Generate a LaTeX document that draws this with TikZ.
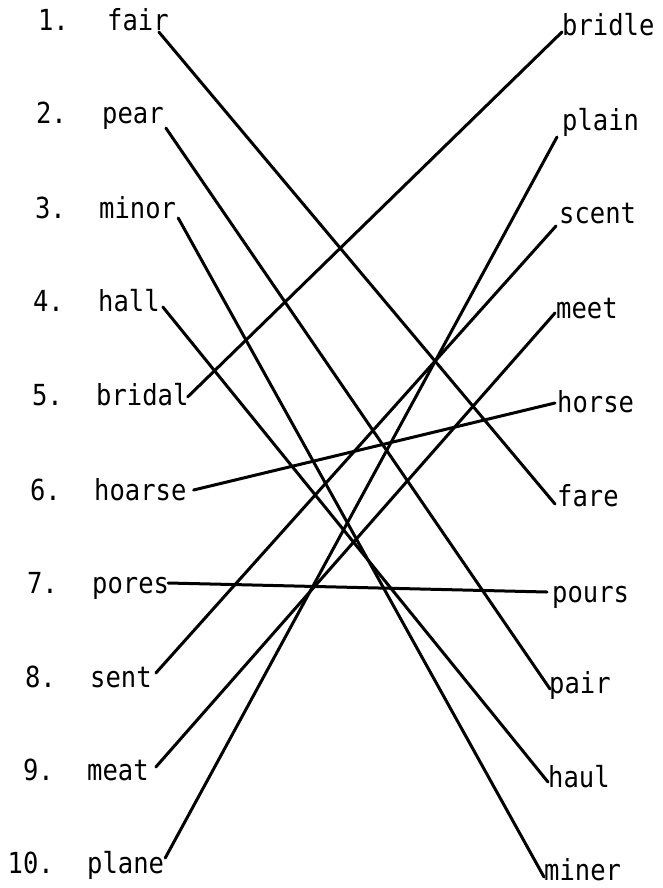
\documentclass[tikz,border=0pt]{standalone}
\usepackage{fontspec}
\setmainfont{DejaVu Sans Mono}[FakeStretch=0.88]
\usetikzlibrary{calc}
\tikzset{
  numtext/.style={anchor=base east, inner sep=0pt, font=\fontsize{29}{32}\selectfont},
  lefttext/.style={anchor=base west, inner sep=0pt, font=\fontsize{29}{32}\selectfont},
  righttext/.style={anchor=base west, inner sep=0pt, font=\fontsize{29}{32}\selectfont},
  link/.style={line width=3pt, draw=black, line cap=round}
}
\begin{document}
\begin{tikzpicture}[x=1pt, y=-1pt]
  \useasboundingbox (0,0) rectangle (662,888);

  % left column
  \node[numtext] (n1) at (69,31) {1.};
  \node[lefttext] (fair) at (107,31) {fair};
  \node[numtext] (n2) at (67,124) {2.};
  \node[lefttext] (pear) at (102,124) {pear};
  \node[numtext] (n3) at (66,218) {3.};
  \node[lefttext] (minor) at (99,218) {minor};
  \node[numtext] (n4) at (64,311) {4.};
  \node[lefttext] (hall) at (98,311) {hall};
  \node[numtext] (n5) at (63,405) {5.};
  \node[lefttext] (bridal) at (96,405) {bridal};
  \node[numtext] (n6) at (61,500) {6.};
  \node[lefttext] (hoarse) at (94,500) {hoarse};
  \node[numtext] (n7) at (58,593) {7.};
  \node[lefttext] (pores) at (92,593) {pores};
  \node[numtext] (n8) at (56,687) {8.};
  \node[lefttext] (sent) at (90,687) {sent};
  \node[numtext] (n9) at (54,780) {9.};
  \node[lefttext] (meat) at (87,780) {meat};
  \node[numtext] (n10) at (54,873) {10.};
  \node[lefttext] (plane) at (87,873) {plane};

  % right column
  \node[righttext] (bridle) at (562,36) {bridle};
  \node[righttext] (plain) at (562,130) {plain};
  \node[righttext] (scent) at (559,223) {scent};
  \node[righttext] (meet) at (556,318) {meet};
  \node[righttext] (horse) at (557,412) {horse};
  \node[righttext] (fare) at (557,506) {fare};
  \node[righttext] (pours) at (552,602) {pours};
  \node[righttext] (pair) at (549,693) {pair};
  \node[righttext] (haul) at (548,787) {haul};
  \node[righttext] (miner) at (544,880) {miner};

  % matching lines
  \draw[link] ($(fair.base east)+(-10,1)$) -- ($(fare.base west)+(-2,-2)$);
  \draw[link] ($(pear.base east)+(2,4)$) -- ($(pair.base west)+(1,-4)$);
  \draw[link] ($(minor.base east)+(2,0)$) -- ($(miner.base west)+(0,-3)$);
  \draw[link] ($(hall.base east)+(3,-4)$) -- ($(haul.base west)+(0,-5)$);
  \draw[link] ($(bridal.base east)+(-1,-8)$) -- ($(bridle.base west)+(0,-4)$);
  \draw[link] ($(hoarse.base east)+(7,-10)$) -- ($(horse.base west)+(-2,-9)$);
  \draw[link] ($(pores.base east)+(-1,-10)$) -- ($(pours.base west)+(-5,-10)$);
  \draw[link] ($(sent.base east)+(4,-14)$) -- ($(scent.base west)+(-3,3)$);
  \draw[link] ($(meat.base east)+(7,-13)$) -- ($(meet.base west)+(-1,-5)$);
  \draw[link] ($(plane.base east)+(1,-15)$) -- ($(plain.base west)+(-5,7)$);
\end{tikzpicture}
\end{document}
